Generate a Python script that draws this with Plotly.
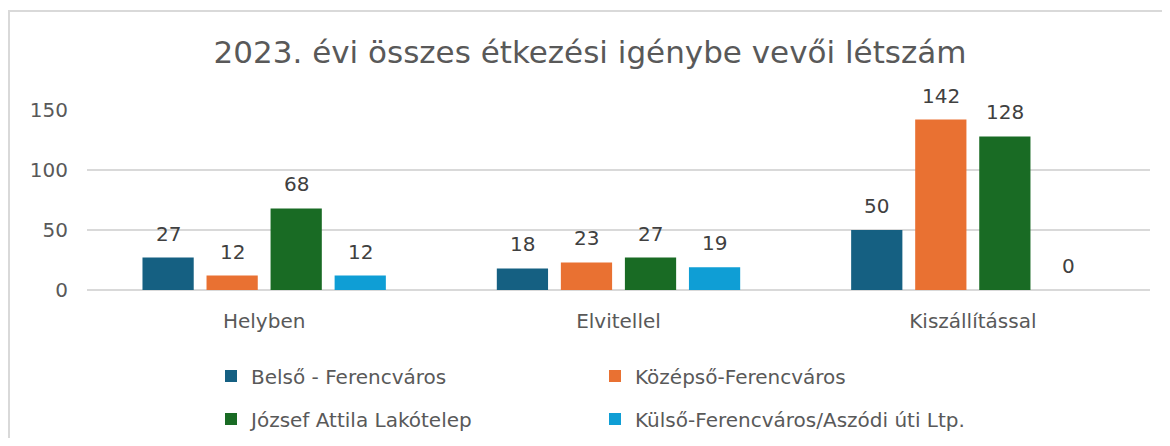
import plotly.graph_objects as go

categories = ["Helyben", "Elvitellel", "Kiszállítással"]
series_names = [
    "Belső - Ferencváros",
    "Középső-Ferencváros",
    "József Attila Lakótelep",
    "Külső-Ferencváros/Aszódi úti Ltp.",
]
belso = [27, 18, 50]
kozepso = [12, 23, 142]
jozsef = [68, 27, 128]
kulso = [12, 19, 0]
series_values = [belso, kozepso, jozsef, kulso]
colors = ["#156082", "#E97132", "#196B24", "#0F9ED5"]
y_ticks = [0, 50, 100, 150]

title_text = "2023. évi összes étkezési igénybe vevői létszám"

FONT = "DejaVu Sans, sans-serif"
LEGFONT = "DejaVu Sans, sans-serif"

BARGAP = 0.277
GROUPGAP = 0.2

# page has an 8px body margin: work in page coordinates, convert to figure coords
OFF = 8
W, H = 1154, 430
L, R, T, B = 87 - OFF, W - (1150 - OFF), 110 - OFF, H - (290 - OFF)
pw, ph = W - L - R, H - T - B


def px_x(p):
    return (p - OFF - L) / pw


def px_y(p):
    return (H - B - (p - OFF)) / ph


fig = go.Figure()
for i, (name, vals, col) in enumerate(zip(series_names, series_values, colors)):
    fig.add_trace(go.Bar(
        name=name, x=categories, y=vals,
        marker=dict(color=col, line=dict(width=0)),
        legend="legend" if i < 2 else "legend2",
        cliponaxis=False,
    ))

# data labels placed via axis coordinates
n = len(series_names)
slot = (1 - BARGAP) / n
for j, vals in enumerate(series_values):
    for i, v in enumerate(vals):
        fig.add_annotation(
            x=i + (j - (n - 1) / 2) * slot, y=v, xref="x", yref="y",
            text=str(v), showarrow=False, yanchor="middle", yshift=24,
            font=dict(family=FONT, size=20, color="#404040"),
        )

fig.add_shape(type="rect", xref="paper", yref="paper",
              x0=px_x(9), x1=px_x(1190), y0=px_y(470), y1=px_y(11),
              line=dict(color="#D9D9D9", width=2), fillcolor="rgba(0,0,0,0)", layer="below")

legend_common = dict(
    orientation="h", xanchor="left", yanchor="middle",
    entrywidth=339, entrywidthmode="pixels", itemwidth=30,
    font=dict(family=LEGFONT, size=20, color="#595959"),
    bgcolor="rgba(0,0,0,0)", traceorder="normal",
)

fig.update_layout(
    width=W, height=H,
    margin=dict(l=L, r=R, t=T, b=B, autoexpand=False),
    paper_bgcolor="white", plot_bgcolor="white",
    barmode="group", bargap=BARGAP, bargroupgap=GROUPGAP,
    title=dict(text=title_text, x=px_x(590), xref="paper", xanchor="center",
               y=1 - (52 - OFF) / H, yanchor="middle",
               font=dict(family=FONT, size=31, color="#595959")),
    xaxis=dict(showgrid=False, showline=False, zeroline=False,
               tickfont=dict(family=FONT, size=20, color="#595959"),
               ticklabelstandoff=17),
    yaxis=dict(range=[0, 150], tickvals=y_ticks, showgrid=True,
               gridcolor="#D9D9D9", gridwidth=1.5, zeroline=True,
               zerolinecolor="#D9D9D9", zerolinewidth=1.5, showline=False,
               tickfont=dict(family=FONT, size=20, color="#595959"),
               ticklabelstandoff=18),
    legend=dict(x=px_x(211), y=px_y(376), **legend_common),
    legend2=dict(x=px_x(211), y=px_y(419), **legend_common),
    showlegend=True,
)

fig.write_html("out.html")
